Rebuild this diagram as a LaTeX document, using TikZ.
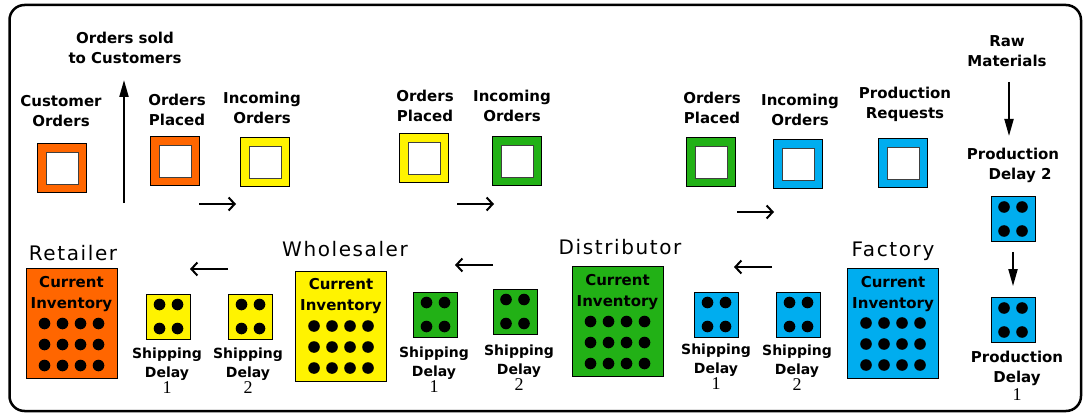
\documentclass[tikz,border=0pt]{standalone}
\usepackage{fontspec}
\setmainfont{DejaVu Sans}
\newfontfamily\titlefont[LetterSpace=8]{DejaVu Sans}
\newfontfamily\numfont{Liberation Serif}
\usetikzlibrary{arrows.meta, positioning}

\definecolor{retcol}{RGB}{255,102,0}
\definecolor{whcol}{RGB}{255,243,0}
\definecolor{dicol}{RGB}{34,177,22}
\definecolor{facol}{RGB}{0,173,239}

\newcommand{\delaynum}[1]{{\numfont\mdseries\fontsize{18}{18}\selectfont #1}}

\tikzset{
  lbl/.style={align=center, inner sep=0pt, font=\fontsize{15}{20}\selectfont\bfseries},
  shiplbl/.style={align=center, inner sep=0pt, font=\fontsize{14}{19}\selectfont\bfseries},
  curlbl/.style={align=center, inner sep=0pt, font=\fontsize{15}{21}\selectfont\bfseries},
  stage/.style={inner sep=0pt, font=\fontsize{20}{24}\selectfont\titlefont},
  orderbox/.style={draw=black, thick, fill=#1, minimum size=49pt, inner sep=0pt,
    path picture={\filldraw[fill=white, draw=black!75, thick]
      ([shift={(-16pt,-16pt)}]path picture bounding box.center) rectangle ++(32pt,32pt);}},
  delaybox/.style={draw=black, thick, fill=#1, minimum width=44pt, minimum height=45pt, inner sep=0pt,
    path picture={\foreach \dx in {-9pt,9pt} \foreach \dy in {-12pt,12pt}
      \fill[black] ([shift={(\dx,\dy)}]path picture bounding box.center) circle (5.8pt);}},
  invbox/.style={draw=black, thick, fill=#1, minimum width=91pt, minimum height=110pt, inner sep=0pt,
    path picture={\foreach \dx in {-27pt,-9pt,9pt,27pt} \foreach \dy in {0pt,-21pt,-42pt}
      \fill[black] ([shift={(\dx,\dy)}]path picture bounding box.center) circle (5.8pt);}},
  flow/.style={-{Straight Barb[length=6pt,width=13pt]}, line width=2pt},
  feed/.style={-{Triangle[length=17pt,width=9pt]}, line width=2pt},
}

\begin{document}
\begin{tikzpicture}[x=1pt, y=-1pt]
  \useasboundingbox (0,0) rectangle (1083,414);
  \draw[line width=2.5pt, rounded corners=15pt] (9.5,5) rectangle (1081,411);

  % orders side
  \draw (125,48) node[lbl] (sold) {Orders sold\\to Customers};
  \draw (61,111) node[lbl] (custlbl) {Customer\\Orders};
  \draw (62,168) node[orderbox=retcol] (cust) {};
  \draw (177,110) node[lbl] (retoplbl) {Orders\\Placed};
  \draw (175,161) node[orderbox=retcol] (retop) {};
  \draw (262,108) node[lbl] (retinlbl) {Incoming\\Orders};
  \draw (265,162) node[orderbox=whcol] (retin) {};
  \draw (425,106) node[lbl] (whoplbl) {Orders\\Placed};
  \draw (424,158) node[orderbox=whcol] (whop) {};
  \draw (512,106) node[lbl] (whinlbl) {Incoming\\Orders};
  \draw (517,161) node[orderbox=dicol] (whin) {};
  \draw (712,108) node[lbl] (dioplbl) {Orders\\Placed};
  \draw (711,162) node[orderbox=dicol] (diop) {};
  \draw (800,110) node[lbl] (diinlbl) {Incoming\\Orders};
  \draw (798,164) node[orderbox=facol] (diin) {};
  \draw (905,104) node[lbl] (prqlbl) {Production\\Requests};
  \draw (903,163) node[orderbox=facol] (prq) {};

  % production line
  \draw (1007,51) node[lbl] (raw) {Raw\\Materials};
  \draw (1013,165) node[lbl] (pd2lbl) {Production\\\hspace*{14pt}Delay 2};
  \draw (1013,219) node[delaybox=facol] (pd2) {};
  \draw (1013,320) node[delaybox=facol] (pd1) {};
  \draw (1017,376) node[lbl] (pd1lbl) {Production\\Delay\\[-2pt]\delaynum{1}};

  % stages
  \draw (73,253) node[stage] (rettitle) {Retailer};
  \draw (71.5,323.5) node[invbox=retcol] (retinv) {};
  \draw (71.5,294) node[curlbl] (retcur) {Current\\Inventory};
  \draw (168.5,316.5) node[delaybox=whcol] (retsd1) {};
  \draw (167,371) node[shiplbl] (retsd1lbl) {Shipping\\Delay\\[-3pt]\delaynum{1}};
  \draw (250.5,316.5) node[delaybox=whcol] (retsd2) {};
  \draw (248,371) node[shiplbl] (retsd2lbl) {Shipping\\Delay\\[-3pt]\delaynum{2}};

  \draw (345,249) node[stage] (whtitle) {Wholesaler};
  \draw (341,326) node[invbox=whcol] (whinv) {};
  \draw (341,296) node[curlbl] (whcur) {Current\\Inventory};
  \draw (435.5,314.5) node[delaybox=dicol] (whsd1) {};
  \draw (434,370) node[shiplbl] (whsd1lbl) {Shipping\\Delay\\[-3pt]\delaynum{1}};
  \draw (515,311.5) node[delaybox=dicol] (whsd2) {};
  \draw (519,368) node[shiplbl] (whsd2lbl) {Shipping\\Delay\\[-3pt]\delaynum{2}};

  \draw (620,247) node[stage] (dititle) {Distributor};
  \draw (617.5,321.5) node[invbox=dicol] (diinv) {};
  \draw (617.5,292) node[curlbl] (dicur) {Current\\Inventory};
  \draw (716.5,314.5) node[delaybox=facol] (disd1) {};
  \draw (716,367) node[shiplbl] (disd1lbl) {Shipping\\Delay\\[-3pt]\delaynum{1}};
  \draw (798.5,314.5) node[delaybox=facol] (disd2) {};
  \draw (797,368) node[shiplbl] (disd2lbl) {Shipping\\Delay\\[-3pt]\delaynum{2}};

  \draw (893,251) node[stage] (fatitle) {Factory};
  \draw (893,323) node[invbox=facol] (fainv) {};
  \draw (893,294) node[curlbl] (facur) {Current\\Inventory};

  % arrow ends
  \coordinate (soldfoot) at (124,203);
  \coordinate (soldtip) at (124,80);
  \coordinate (rawtop) at (1009,82);
  \coordinate (rawtip) at (1009,136);
  \coordinate (ra1) at (199,204);  \coordinate (ra2) at (236,204);
  \coordinate (wa1) at (457,204);  \coordinate (wa2) at (494,204);
  \coordinate (da1) at (737,212);  \coordinate (da2) at (774,212);
  \coordinate (rl1) at (228,269);  \coordinate (rl2) at (190,269);
  \coordinate (wl1) at (493,265);  \coordinate (wl2) at (455,265);
  \coordinate (dl1) at (772,267);  \coordinate (dl2) at (734,267);

  \path[flow]
    (ra1) edge (ra2)
    (wa1) edge (wa2)
    (da1) edge (da2)
    (rl1) edge (rl2)
    (wl1) edge (wl2)
    (dl1) edge (dl2);
  \path[feed]
    (soldfoot) edge (soldtip)
    (rawtop) edge (rawtip)
    (pd2) edge[shorten <=10pt, shorten >=11pt] (pd1);
\end{tikzpicture}
\end{document}
